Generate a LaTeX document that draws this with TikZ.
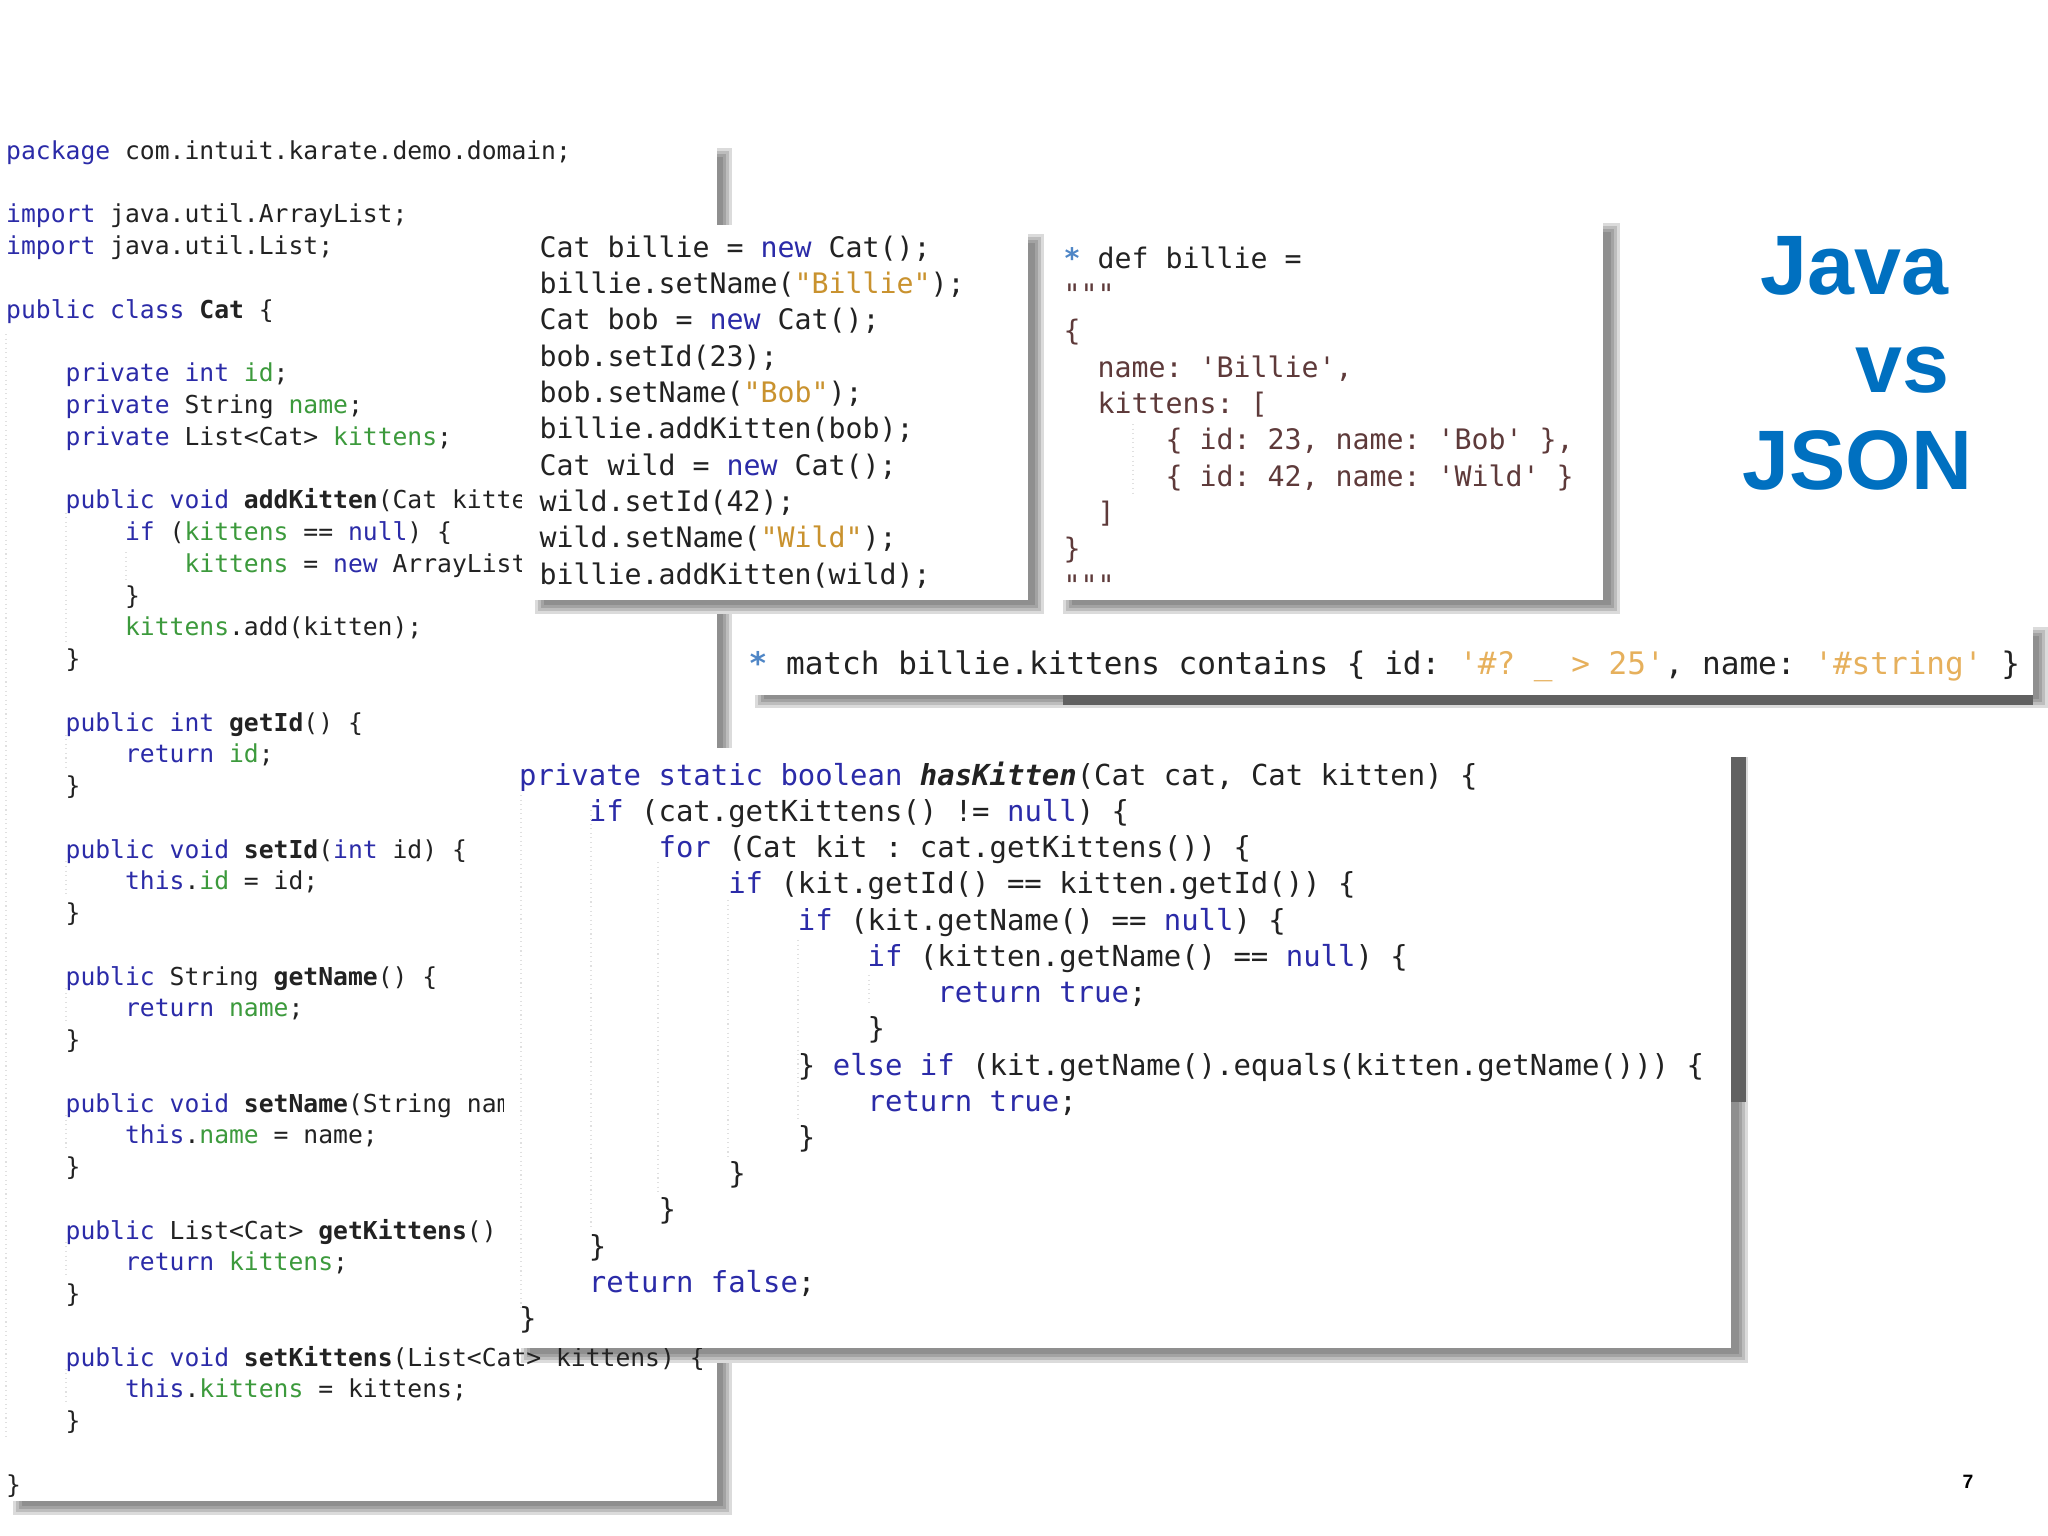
\documentclass[tikz,border=0pt]{standalone}
\usepackage{fontspec}
\newfontfamily\codefont{DejaVu Sans Mono}
\setmainfont{Liberation Sans}
\frenchspacing
\definecolor{kwdblue}{HTML}{2B2BA8}
\definecolor{fldgreen}{HTML}{3C9A3C}
\definecolor{strorange}{HTML}{C9922E}
\definecolor{matchorange}{HTML}{E6B05C}
\definecolor{jsonbrown}{HTML}{5E3A3A}
\definecolor{starblue}{HTML}{4F86C6}
\definecolor{codeblack}{HTML}{222222}
\definecolor{titleblue}{HTML}{0070C0}
\newcommand{\ind}[1]{\hspace*{#1\dimexpr0.602em\relax}}
\newcommand{\kwd}[1]{\textcolor{kwdblue}{#1}}
\newcommand{\fld}[1]{\textcolor{fldgreen}{#1}}
\newcommand{\strg}[1]{\textcolor{strorange}{#1}}
\newcommand{\mstr}[1]{\textcolor{matchorange}{#1}}
\newcommand{\jsn}[1]{\textcolor{jsonbrown}{#1}}
\newcommand{\stepstar}{\textcolor{starblue}{\textbf{*}}}
\newcommand{\castshadow}[4]{%
    \foreach \d/\c in {0/14,3/26,6/36,9/44}
        \fill[black!\c] (#1+\d,#2+\d) rectangle (#3-\d,#4-\d);
}
\tikzset{
    codetext/.style={anchor=north west,inner sep=0pt,align=left,text=codeblack},
    leftcode/.style={codetext,font=\codefont\fontsize{7.02}{9.03}\selectfont},
    midcode/.style={codetext,font=\codefont\fontsize{8.03}{10.33}\selectfont},
    matchcode/.style={codetext,font=\codefont\fontsize{8.83}{11}\selectfont},
    hascode/.style={codetext,font=\codefont\fontsize{8.23}{10.3}\selectfont},
    titletext/.style={anchor=base east,inner sep=0pt,text=titleblue,font=\fontsize{24}{28}\selectfont\bfseries},
    guide/.style={black!12,densely dotted,line width=0.3pt},
    darkshadow/.style={black!62},
}

\begin{document}
\begin{tikzpicture}[x=0.01cm,y=-0.01cm]
    \useasboundingbox (0,0) rectangle (2048,1536);
    % big class listing
    \castshadow{13}{148}{732}{1515}
    \fill[white] (0,130) rectangle (717,1501);
    % shadow of the lower panel lies under the class text
    \castshadow{521}{757}{1748}{1363}
    \fill[darkshadow] (1731,757) rectangle (1746,1102);
    \node[leftcode] (catclass) at (5.5,140) {%
        \kwd{package} com.intuit.karate.demo.domain;\\
        ~\\
        \kwd{import} java.util.ArrayList;\\
        \kwd{import} java.util.List;\\
        ~\\
        \kwd{public class} \textbf{Cat} \{\\
        ~\\
        \ind{4}\kwd{private int} \fld{id};\\
        \ind{4}\kwd{private} String \fld{name};\\
        \ind{4}\kwd{private} List<Cat> \fld{kittens};\\
        ~\\
        \ind{4}\kwd{public void} \textbf{addKitten}(Cat kitte\\
        \ind{8}\kwd{if} (\fld{kittens} == \kwd{null}) \{\\
        \ind{12}\fld{kittens} = \kwd{new} ArrayList\\
        \ind{8}\}\\
        \ind{8}\fld{kittens}.add(kitten);\\
        \ind{4}\}\\
        ~\\
        \ind{4}\kwd{public int} \textbf{getId}() \{\\
        \ind{8}\kwd{return} \fld{id};\\
        \ind{4}\}\\
        ~\\
        \ind{4}\kwd{public void} \textbf{setId}(\kwd{int} id) \{\\
        \ind{8}\kwd{this}.\fld{id} = id;\\
        \ind{4}\}\\
        ~\\
        \ind{4}\kwd{public} String \textbf{getName}() \{\\
        \ind{8}\kwd{return} \fld{name};\\
        \ind{4}\}\\
        ~\\
        \ind{4}\kwd{public void} \textbf{setName}(String nam\\
        \ind{8}\kwd{this}.\fld{name} = name;\\
        \ind{4}\}\\
        ~\\
        \ind{4}\kwd{public} List<Cat> \textbf{getKittens}()\\
        \ind{8}\kwd{return} \fld{kittens};\\
        \ind{4}\}\\
        ~\\
        \ind{4}\kwd{public void} \textbf{setKittens}(List<Cat> kittens) \{\\
        \ind{8}\kwd{this}.\fld{kittens} = kittens;\\
        \ind{4}\}\\
        ~\\
        \}};
    \draw[guide] (6,334) -- (6,1440);
    \foreach \ya/\yb in {12/17,19/21,23/25,27/29,31/33,35/37,39/41}
        \draw[guide] (66,{158+31.7*(\ya-1)+6}) -- (66,{158+31.7*(\yb-1)-22});
    \draw[guide] (126,552) -- (126,580);
    % object creation in java
    \castshadow{535}{234}{1044}{614}
    \fill[white] (522,225) rectangle (1028,600);
    \node[midcode] (javacode) at (539,235) {%
        Cat billie = \kwd{new} Cat();\\
        billie.setName(\strg{"Billie"});\\
        Cat bob = \kwd{new} Cat();\\
        bob.setId(23);\\
        bob.setName(\strg{"Bob"});\\
        billie.addKitten(bob);\\
        Cat wild = \kwd{new} Cat();\\
        wild.setId(42);\\
        wild.setName(\strg{"Wild"});\\
        billie.addKitten(wild);};
    % same thing as json
    \castshadow{1063}{223}{1620}{614}
    \fill[white] (1056,215) rectangle (1603,600);
    \node[midcode] (jsoncode) at (1063,246) {%
        \stepstar{} def billie =\\
        \jsn{"""}\\
        \jsn{\{}\\
        \ind{2}\jsn{name: 'Billie',}\\
        \ind{2}\jsn{kittens: [}\\
        \ind{6}\jsn{\{ id: 23, name: 'Bob' \},}\\
        \ind{6}\jsn{\{ id: 42, name: 'Wild' \}}\\
        \ind{2}\jsn{]}\\
        \jsn{\}}\\
        \jsn{"""}};
    \draw[guide] (1133,424) -- (1133,496);
    % match line
    \castshadow{755}{627}{2048}{708}
    \fill[darkshadow] (1063,695) rectangle (2033,705);
    \fill[white] (740,620) rectangle (2033,695);
    \node[matchcode] (matchline) at (748,650) {%
        \stepstar{} match billie.kittens contains \{ id: \mstr{'\#? \_ > 25'}, name: \mstr{'\#string'} \}};
    % java comparison method
    \fill[white] (504,748) rectangle (1731,1348);
    \node[hascode] (hasmethod) at (518.5,761) {%
        \kwd{private static boolean} \textbf{\textit{hasKitten}}(Cat cat, Cat kitten) \{\\
        \ind{4}\kwd{if} (cat.getKittens() != \kwd{null}) \{\\
        \ind{8}\kwd{for} (Cat kit : cat.getKittens()) \{\\
        \ind{12}\kwd{if} (kit.getId() == kitten.getId()) \{\\
        \ind{16}\kwd{if} (kit.getName() == \kwd{null}) \{\\
        \ind{20}\kwd{if} (kitten.getName() == \kwd{null}) \{\\
        \ind{24}\kwd{return true};\\
        \ind{20}\}\\
        \ind{16}\} \kwd{else if} (kit.getName().equals(kitten.getName())) \{\\
        \ind{20}\kwd{return true};\\
        \ind{16}\}\\
        \ind{12}\}\\
        \ind{8}\}\\
        \ind{4}\}\\
        \ind{4}\kwd{return false};\\
        \}};
    \draw[guide] (521,795) -- (521,1310);
    \draw[guide] (591,810) -- (591,1230);
    \draw[guide] (658,862) -- (658,1195);
    \draw[guide] (728,900) -- (728,1160);
    \draw[guide] (798,940) -- (798,1120);
    \draw[guide] (869,975) -- (869,1005);
    % title and page number
    \node[titletext] (javaword) at (1949,294) {Java};
    \node[titletext] (vsword) at (1950,392) {vs};
    \node[titletext] (jsonword) at (1973,489) {JSON};
    \node[anchor=base,inner sep=0pt,font=\fontsize{5.5}{7}\selectfont\bfseries] (pagenum) at (1968,1488) {7};
\end{tikzpicture}
\end{document}
